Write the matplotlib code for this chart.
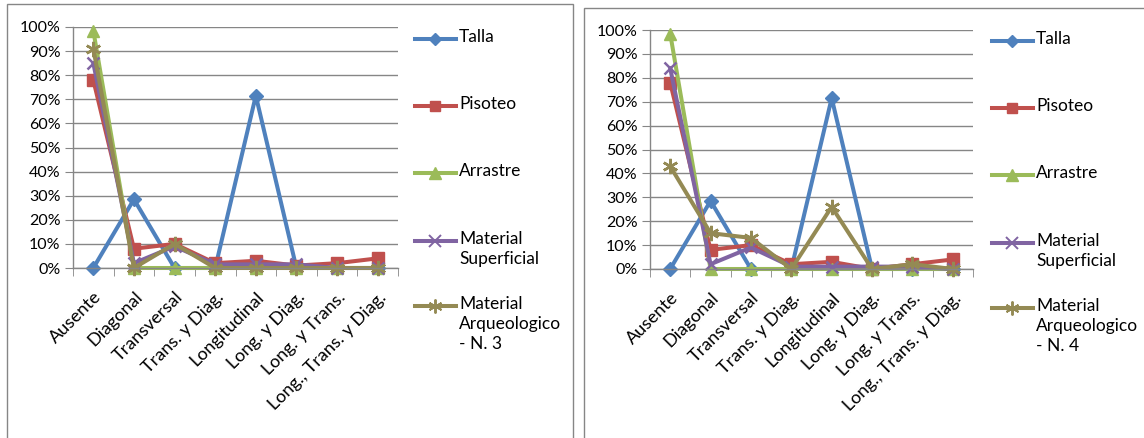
import matplotlib
matplotlib.use("Agg")
import matplotlib.pyplot as plt
import matplotlib.transforms as mtransforms
from matplotlib.lines import Line2D
from matplotlib.patches import Rectangle
import numpy as np

plt.rcParams['font.family'] = ['Lato', 'DejaVu Sans']

categories = ["Ausente", "Diagonal", "Transversal", "Trans. y Diag.", "Longitudinal",
              "Long. y Diag.", "Long. y Trans.", "Long., Trans. y Diag."]

# percentages per category, nivel 3
talla_n3 = [0, 28.5, 0, 0, 71.5, 0, 0, 0]
pisoteo_n3 = [78, 8, 10, 2, 3, 1, 2, 4]
arrastre_n3 = [98.5, 0, 0, 0, 0, 0, 0, 0]
superficial_n3 = [85, 2, 9, 1.5, 1.5, 1.5, 0, 0]
arqueologico_n3 = [91, 0, 10, 0, 0, 0, 0, 0]

# percentages per category, nivel 4
talla_n4 = [0, 28.5, 0, 0, 71.5, 0, 0, 0]
pisoteo_n4 = [78, 8, 10, 2, 3, 0, 2, 4]
arrastre_n4 = [98.5, 0, 0, 0, 0, 0, 0, 0]
superficial_n4 = [84, 2, 9, 1, 1, 1, 1, 0]
arqueologico_n4 = [43, 15, 13, 0, 26, 0, 2, 0]

series_names = ["Talla", "Pisoteo", "Arrastre", "Material\nSuperficial", "Material\nArqueologico\n- N. 3"]
colors = ["#4F81BD", "#C0504D", "#9BBB59", "#8064A2", "#948A54"]
markers = ["D", "s", "^", "x", (6, 2, 0)]
msizes = [7, 8, 9, 9, 11]

W, H = 1144, 438
fig = plt.figure(figsize=(W / 100, H / 100), dpi=100)
fig.patch.set_facecolor("white")

def px_axes(x0, x1, ytop, ybot):
    return fig.add_axes([x0 / W, (H - ybot) / H, (x1 - x0) / W, (ybot - ytop) / H])

def thin(m):
    return m == "x" or isinstance(m, tuple)

def draw_chart(ax, data):
    x = np.arange(len(categories))
    for vals, c, m, ms in zip(data, colors, markers, msizes):
        ax.plot(x, vals, color=c, lw=2.9, marker=m, markersize=ms,
                markeredgewidth=1.8 if thin(m) else 1,
                markerfacecolor=c, markeredgecolor=c, clip_on=False)
    ax.set_xlim(-0.5, len(categories) - 0.5)
    ax.set_ylim(0, 100)
    ax.set_yticks(np.arange(0, 101, 10))
    ax.set_yticklabels([f"{v}%" for v in range(0, 101, 10)])
    ax.set_xticks(x)
    ax.set_xticklabels(categories, rotation=45, ha="right", va="top", rotation_mode="anchor")
    shift = mtransforms.ScaledTranslation(6 / 100, 0, fig.dpi_scale_trans)
    for lab in ax.get_xticklabels():
        lab.set_transform(lab.get_transform() + shift)
    ax.set_xticks(np.arange(-0.5, len(categories), 1), minor=True)
    ax.tick_params(axis="x", which="major", length=0, pad=15, labelsize=13, colors="black")
    ax.tick_params(axis="x", which="minor", length=6, color="#868686", direction="out")
    ax.tick_params(axis="y", length=6, color="#868686", labelsize=11.5, pad=3)
    ax.grid(axis="y", color="#868686", lw=1)
    ax.set_axisbelow(True)
    for s in ("top", "right"):
        ax.spines[s].set_visible(False)
    for s in ("left", "bottom"):
        ax.spines[s].set_color("#868686")
        ax.spines[s].set_linewidth(1)

def draw_legend(x0, rows, names):
    # handles drawn in pixel space next to each label
    for y, name, c, m, ms in zip(rows, names, colors, markers, msizes):
        yy = (H - y) / H
        ln = Line2D([x0 / W, (x0 + 41) / W], [yy, yy], transform=fig.transFigure,
                    color=c, lw=2.9)
        mk = Line2D([(x0 + 20) / W], [yy], transform=fig.transFigure, color=c,
                    marker=m, markersize=ms - 1, markerfacecolor=c, markeredgecolor=c,
                    markeredgewidth=1.4 if thin(m) else 1)
        fig.add_artist(ln)
        fig.add_artist(mk)
        fig.text((x0 + 44) / W, yy + 10 / H, name, ha="left", va="top", fontsize=12.5,
                 linespacing=1.3, color="black")

# left panel
fig.add_artist(Rectangle((7 / W, -0.01), 566 / W, (H - 4) / H + 0.01, transform=fig.transFigure,
                         fill=False, edgecolor="#868686", lw=1))
ax1 = px_axes(73, 398, 27, 268)
draw_chart(ax1, [talla_n3, pisoteo_n3, arrastre_n3, superficial_n3, arqueologico_n3])
draw_legend(415, [39, 106, 173, 241, 306], series_names)

# right panel
fig.add_artist(Rectangle((584 / W, -0.01), 600 / W, (H - 8) / H + 0.01, transform=fig.transFigure,
                         fill=False, edgecolor="#868686", lw=1))
ax2 = px_axes(650, 973, 30, 269)
draw_chart(ax2, [talla_n4, pisoteo_n4, arrastre_n4, superficial_n4, arqueologico_n4])
names_n4 = series_names[:4] + ["Material\nArqueologico\n- N. 4"]
draw_legend(992, [41, 108, 175, 243, 308], names_n4)

fig.savefig("out.png", dpi=100)
